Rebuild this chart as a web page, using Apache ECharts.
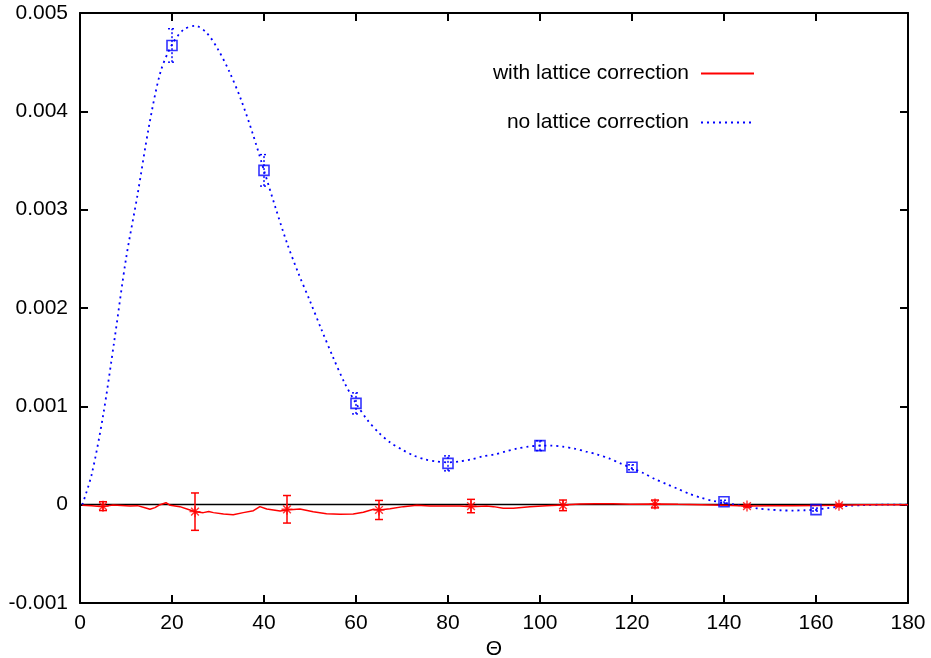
<!DOCTYPE html>
<html>
<head>
<meta charset="utf-8">
<script src="https://cdn.jsdelivr.net/npm/echarts@6/dist/echarts.min.js"></script>
<style>
    html, body { margin: 0; padding: 0; background: #fff; }
    #chart { width: 931px; height: 658px; }
</style>
</head>
<body>
<div id="chart"></div>
<script>
// all y values below are in units of 1e-3
// blue dotted curve (no lattice correction)
const curveTheta = [0.5, 2.5, 5, 7.5, 10, 12.5, 15, 17.5, 20, 22.5, 25, 27.5, 30, 32.5, 35, 37.5, 40, 42.5, 45, 47.5,
    50, 52.5, 55, 57.5, 60, 62.5, 65, 67.5, 70, 72.5, 75, 77.5, 80, 82.5, 85, 87.5, 90, 92.5, 95, 97.5,
    100, 102.5, 105, 107.5, 110, 112.5, 115, 117.5, 120, 122.5, 125, 127.5, 130, 132.5, 135, 137.5, 140, 142.5, 145, 147.5,
    150, 152.5, 155, 157.5, 160, 162.5, 165, 167.5, 170, 175, 180];
const curveNoCorr = [0, 0.3, 0.9, 1.68, 2.5, 3.15, 3.85, 4.4, 4.68, 4.83, 4.87, 4.8, 4.63, 4.4, 4.12, 3.78, 3.4, 3.02, 2.66, 2.35,
    2.07, 1.78, 1.5, 1.24, 1.03, 0.86, 0.73, 0.63, 0.56, 0.5, 0.46, 0.44, 0.43, 0.44, 0.46, 0.49, 0.51, 0.54, 0.57, 0.59,
    0.6, 0.6, 0.59, 0.57, 0.54, 0.51, 0.47, 0.42, 0.37, 0.32, 0.26, 0.21, 0.16, 0.11, 0.07, 0.04, 0.02, 0, -0.02, -0.04,
    -0.05, -0.058, -0.06, -0.057, -0.05, -0.035, -0.02, -0.01, -0.005, 0, 0];

// red solid curve (with lattice correction)
const lineTheta = [0.5, 2.5, 5, 7.2, 9, 10.9, 12.5, 14.5, 15.2, 16.3, 17.4, 18.7, 19.6, 21.7, 23.9, 25, 26.8, 28, 29, 31.2,
    33.3, 35.5, 37.7, 39.1, 40.6, 43.5, 45, 47.8, 50.7, 53.6, 56.5, 59.4, 61.6, 63.8, 65, 67.4, 70.3, 73.2, 76.1, 79.7,
    82.6, 85, 88.4, 89.9, 92, 94.2, 97.8, 101.4, 105, 108.7, 112, 115.9, 119.6, 125, 130, 135, 140, 145, 150, 155,
    160, 165, 170, 180];
const lineCorr = [-0.007, -0.01, -0.02, -0.003, -0.008, -0.014, -0.01, -0.037, -0.047, -0.03, 0, 0.02, -0.007, -0.02, -0.054, -0.071, -0.081, -0.07, -0.081, -0.095,
    -0.102, -0.081, -0.061, -0.02, -0.044, -0.064, -0.054, -0.044, -0.071, -0.092, -0.098, -0.095, -0.078, -0.047, -0.054, -0.041, -0.02, -0.007, -0.014, -0.014,
    -0.014, -0.02, -0.014, -0.02, -0.037, -0.037, -0.02, -0.01, -0.003, 0.007, 0.01, 0.01, 0.003, 0.007, 0.003, 0, -0.005, -0.014, -0.012, -0.01,
    -0.008, -0.007, -0.002, 0];

// points with error bars
const ptsNoCorrTheta = [20, 40, 60, 80, 100, 120, 140, 160];
const ptsNoCorr = [4.67, 3.4, 1.03, 0.42, 0.6, 0.38, 0.03, -0.05];
const errNoCorr = [0.17, 0.16, 0.107, 0.076, 0.05, 0.025, 0.015, 0.015];

const ptsCorrTheta = [5, 25, 45, 65, 85, 105, 125, 145, 165];
const ptsCorr = [-0.015, -0.071, -0.047, -0.054, -0.014, -0.007, 0.007, -0.014, -0.007];
const errCorr = [0.045, 0.19, 0.14, 0.097, 0.068, 0.054, 0.04, 0.01, 0.01];

const xTicks = [0, 180, 20];
const yTicks = [-0.001, 0.005, 0.001];

const FONT = 'Liberation Sans';
const RED = '#ff0000';
const BLUE = '#0000ff';

const m = v => v * 1e-3;
const pairs = (xs, ys) => xs.map((x, i) => [x, m(ys[i])]);
const triples = (xs, ys, es) => xs.map((x, i) => [x, m(ys[i]), m(es[i])]);

// vertical error bar with caps
function errorBar(color, dash, lw) {
    return function (params, api) {
        const x = api.value(0), y = api.value(1), e = api.value(2);
        const lo = api.coord([x, y - e]);
        const hi = api.coord([x, y + e]);
        const w = 4;
        const style = { stroke: color, lineWidth: lw, lineDash: dash, fill: null };
        return {
            type: 'group',
            children: [
                { type: 'line', shape: { x1: lo[0], y1: lo[1], x2: hi[0], y2: hi[1] }, style: style },
                { type: 'line', shape: { x1: lo[0] - w, y1: lo[1], x2: lo[0] + w, y2: lo[1] }, style: style },
                { type: 'line', shape: { x1: hi[0] - w, y1: hi[1], x2: hi[0] + w, y2: hi[1] }, style: style }
            ]
        };
    };
}

const axisCommon = {
    type: 'value',
    splitLine: { show: false },
    axisLine: { show: true, onZero: false, lineStyle: { color: '#000', width: 2 } },
    axisTick: { show: true, inside: true, length: 8, lineStyle: { color: '#000', width: 2 } },
};

var myChart = echarts.init(document.getElementById('chart'));

var option = {
    animation: false,
    backgroundColor: '#fff',
    grid: { left: 80, right: 23, top: 13, bottom: 55, show: false, outerBoundsMode: 'none' },
    legend: {
        orient: 'vertical',
        right: 171,
        top: 58,
        align: 'right',
        itemWidth: 53,
        itemHeight: 14,
        itemGap: 28,
        selectedMode: false,
        itemStyle: { opacity: 0 },
        data: ['with lattice correction', 'no lattice correction'],
        textStyle: { fontFamily: FONT, fontSize: 21, color: '#000', lineHeight: 21, padding: [0, 7, 0, 0] }
    },
    xAxis: [
        Object.assign({}, axisCommon, {
            position: 'bottom',
            min: xTicks[0], max: xTicks[1], interval: xTicks[2],
            name: 'Θ',
            nameLocation: 'middle',
            nameGap: 29,
            nameTextStyle: { fontFamily: FONT, fontSize: 21, color: '#000' },
            axisLabel: { fontFamily: FONT, fontSize: 21, color: '#000', margin: 10 }
        }),
        Object.assign({}, axisCommon, {
            position: 'top',
            min: xTicks[0], max: xTicks[1], interval: xTicks[2],
            axisLabel: { show: false }
        })
    ],
    yAxis: [
        Object.assign({}, axisCommon, {
            position: 'left',
            min: yTicks[0], max: yTicks[1], interval: yTicks[2],
            axisLabel: {
                fontFamily: FONT, fontSize: 21, color: '#000', margin: 12,
                formatter: v => Math.abs(v) < 1e-12 ? '0' : v.toFixed(3)
            }
        }),
        Object.assign({}, axisCommon, {
            position: 'right',
            min: yTicks[0], max: yTicks[1], interval: yTicks[2],
            axisLabel: { show: false }
        })
    ],
    series: [
        {
            name: 'no lattice correction',
            type: 'line',
            data: pairs(curveTheta, curveNoCorr),
            smooth: 0.3,
            symbol: 'none',
            lineStyle: { color: BLUE, width: 1.8, type: [2, 4] },
            itemStyle: { color: BLUE },
            z: 2
        },
        {
            name: 'with lattice correction',
            type: 'line',
            data: pairs(lineTheta, lineCorr),
            symbol: 'none',
            lineStyle: { color: RED, width: 1.5 },
            itemStyle: { color: RED },
            z: 3,
            markLine: {
                silent: true,
                symbol: 'none',
                label: { show: false },
                lineStyle: { color: '#000', width: 1.3, type: 'solid' },
                data: [{ yAxis: 0 }],
                z: 1
            }
        },
        {
            name: 'err-no',
            type: 'custom',
            renderItem: errorBar(BLUE, [2, 2], 1.4),
            data: triples(ptsNoCorrTheta, ptsNoCorr, errNoCorr),
            z: 4
        },
        {
            name: 'err-with',
            type: 'custom',
            renderItem: errorBar(RED, null, 1.5),
            data: triples(ptsCorrTheta, ptsCorr, errCorr),
            z: 4
        },
        {
            name: 'pts-no',
            type: 'scatter',
            data: pairs(ptsNoCorrTheta, ptsNoCorr),
            symbol: 'rect',
            symbolSize: 10,
            itemStyle: { color: 'rgba(0,0,0,0)', borderColor: BLUE, borderWidth: 1.6 },
            z: 5
        },
        {
            name: 'pts-with',
            type: 'scatter',
            data: pairs(ptsCorrTheta, ptsCorr),
            symbol: 'path://M5,0L5,10M0,5L10,5M1.5,1.5L8.5,8.5M8.5,1.5L1.5,8.5',
            symbolSize: 11,
            itemStyle: { color: 'rgba(0,0,0,0)', borderColor: RED, borderWidth: 1.4 },
            z: 5
        }
    ]
};

myChart.setOption(option);
</script>
</body>
</html>
